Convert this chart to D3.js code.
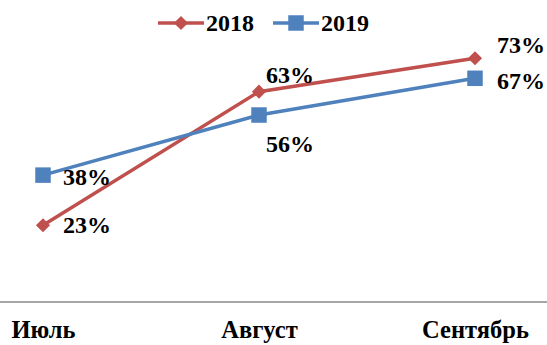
<!DOCTYPE html>
<html><head><meta charset="utf-8">
<script src="https://cdn.jsdelivr.net/npm/d3@7"></script>
<style>body{margin:0;background:#fff}</style>
</head><body><svg id="c" width="547" height="345"></svg>
<script>
const categories = ["Июль", "Август", "Сентябрь"];
const series2018 = [23, 63, 73];
const series2019 = [38, 56, 67];
const seriesNames = ["2018", "2019"];

const W = 547, H = 345;
const FONT = "'Liberation Serif', 'Times New Roman', serif";
const svg = d3.select("#c");
const x = d3.scalePoint().domain(categories).range([43, 475]);
const y = d3.scaleLinear().domain([0, 90]).range([302, 1.5]);
const colors = {"2018": "#C0504D", "2019": "#4F81BD"};
const data = [
  {name: seriesNames[0], values: series2018, offsets: [[20, 8], [7, -9], [22, -5]]},
  {name: seriesNames[1], values: series2019, offsets: [[20, 10], [7, 37], [22, 11]]}
];

function txt(sel, size) {
  return sel.style("font-family", FONT).style("font-weight", "bold")
    .style("font-size", (size || 24) + "px").attr("fill", "#000");
}

// axis line
svg.append("line").attr("x1", 0).attr("x2", W).attr("y1", y(0)).attr("y2", y(0))
  .attr("stroke", "#a6a6a6").attr("stroke-width", 2);

// category labels
const xa = svg.append("g").attr("transform", `translate(0,${y(0)})`)
  .call(d3.axisBottom(x).tickSize(0).tickPadding(0));
xa.select(".domain").remove();
xa.selectAll("text").attr("dy", 0).attr("y", 36).call(txt, 24.5);

const line = d3.line().x((d, i) => x(categories[i])).y(d => y(d));
const diamondPath = d3.symbol().type(d3.symbolSquare).size(100)();
const squarePath = d3.symbol().type(d3.symbolSquare).size(240)();

data.forEach(s => {
  const c = colors[s.name];
  svg.append("path").attr("d", line(s.values)).attr("fill", "none")
    .attr("stroke", c).attr("stroke-width", 3.5);
  svg.selectAll(null).data(s.values).enter().append("path")
    .attr("transform", (d, i) => `translate(${x(categories[i])},${y(d)})` + (s.name === "2018" ? " rotate(45)" : ""))
    .attr("d", s.name === "2018" ? diamondPath : squarePath)
    .attr("fill", c);
  svg.selectAll(null).data(s.values).enter().append("text")
    .attr("x", (d, i) => x(categories[i]) + s.offsets[i][0])
    .attr("y", (d, i) => y(d) + s.offsets[i][1])
    .call(txt).text(d => d + "%");
});

// legend
const leg = [{name: "2018", x: 158}, {name: "2019", x: 273}];
leg.forEach(l => {
  const c = colors[l.name];
  const g = svg.append("g").attr("transform", `translate(${l.x},23)`);
  g.append("line").attr("x1", 0).attr("x2", 46).attr("stroke", c).attr("stroke-width", 3.5);
  g.append("path").attr("transform", "translate(23,0)" + (l.name === "2018" ? " rotate(45)" : ""))
    .attr("d", l.name === "2018" ? diamondPath : squarePath)
    .attr("fill", c);
  g.append("text").attr("x", 48).attr("y", 8).call(txt).text(l.name);
});
</script></body></html>
